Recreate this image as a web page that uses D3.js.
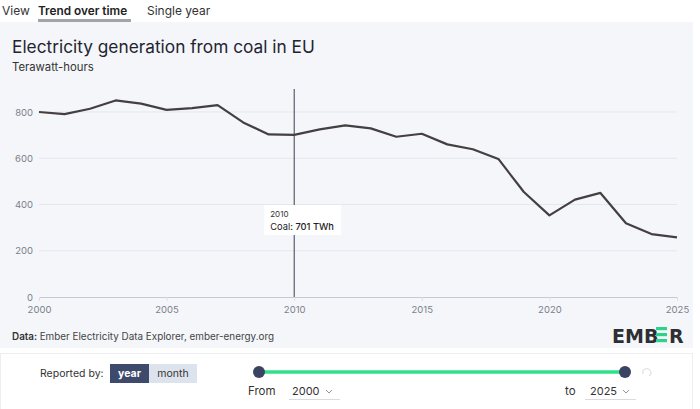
<!DOCTYPE html>
<html><head><meta charset="utf-8">
<script src="https://cdn.jsdelivr.net/npm/d3@7"></script>
<style>body{margin:0;background:#fff;font-family:Inter,"Noto Sans",sans-serif;}svg{display:block}</style>
</head><body><svg id="c" width="700" height="409"></svg>
<script>
const years = d3.range(2000, 2026);
const coalTWh = [800,791,814,850,836,809,817,830,755,703,701,725,742,729,693,706,660,639,597,454,353,421,450,319,272,258];
const yTicks = [0,200,400,600,800];
const xTicks = [2000,2005,2010,2015,2020,2025];
const hoverYear = 2010;

const svg = d3.select("#c");
const F = "Inter, 'Noto Sans', sans-serif";
// tabs
svg.append("text").attr("x",2).attr("y",15).attr("font-size",12).attr("fill","#333").attr("font-family",F).text("View");
svg.append("text").attr("x",38).attr("y",15).attr("font-size",11.8).attr("font-weight",600).attr("fill","#222").attr("font-family",F).text("Trend over time");
svg.append("text").attr("x",147).attr("y",15).attr("font-size",12).attr("fill","#333").attr("font-family",F).text("Single year");
svg.append("rect").attr("x",38).attr("y",19).attr("width",93).attr("height",3).attr("fill","#a0a4ab");
// panel
svg.append("rect").attr("x",0).attr("y",22).attr("width",693).attr("height",326).attr("fill","#f4f6fa");
svg.append("text").attr("x",12).attr("y",53).attr("font-size",17.3).attr("fill","#1f2430").attr("font-family",F).text("Electricity generation from coal in EU");
svg.append("text").attr("x",12).attr("y",71).attr("font-size",11.3).attr("fill","#333").attr("font-family",F).text("Terawatt-hours");

const x = d3.scaleLinear().domain([2000,2025]).range([39,677]);
const y = d3.scaleLinear().domain([0,800]).range([297,112]);

const g = svg.append("g");
g.selectAll("line.grid").data(yTicks.filter(d=>d>0)).join("line")
  .attr("x1",39).attr("x2",677).attr("y1",d=>y(d)).attr("y2",d=>y(d))
  .attr("stroke","#e4e7ee").attr("stroke-width",1);
const xAxis = g.append("g").attr("transform","translate(0,297)")
  .call(d3.axisBottom(x).tickValues(xTicks).tickFormat(d3.format("d")).tickSize(4).tickPadding(5));
xAxis.select(".domain").attr("stroke","#c5c9d2");
xAxis.selectAll(".tick line").attr("stroke","#dde0e6");
xAxis.selectAll("text").attr("font-size",9.5).attr("fill","#7a7f8a").attr("font-family",F);
const yAxis = g.append("g").attr("transform","translate(39,0)")
  .call(d3.axisLeft(y).tickValues(yTicks).tickSize(0).tickPadding(6));
yAxis.select(".domain").remove();
yAxis.selectAll("text").attr("font-size",9.5).attr("fill","#7a7f8a").attr("font-family",F);

// crosshair
g.append("line").attr("x1",x(hoverYear)).attr("x2",x(hoverYear)).attr("y1",89).attr("y2",297).attr("stroke","#3a4050").attr("stroke-width",1);

const line = d3.line().x((d,i)=>x(years[i])).y(d=>y(d));
g.append("path").datum(coalTWh).attr("d",line).attr("fill","none").attr("stroke","#453f42").attr("stroke-width",2.2).attr("stroke-linejoin","round");

// tooltip
const hv = coalTWh[years.indexOf(hoverYear)];
const tt = g.append("g").attr("transform",`translate(${x(hoverYear)-30},205)`);
tt.append("rect").attr("width",77).attr("height",30).attr("fill","#fff");
tt.append("text").attr("x",6).attr("y",12).attr("font-size",8).attr("fill","#333").attr("font-family",F).text(hoverYear);
const t2 = tt.append("text").attr("x",6).attr("y",25).attr("font-size",9.3).attr("fill","#222").attr("font-family",F);
t2.append("tspan").text("Coal:  ");
t2.append("tspan").attr("font-weight",500).text(hv+" TWh");

// footer
const ft = svg.append("text").attr("x",12).attr("y",340).attr("font-size",9.9).attr("fill","#444").attr("font-family",F);
ft.append("tspan").attr("font-weight",600).attr("fill","#333").text("Data: ");
ft.append("tspan").text("Ember Electricity Data Explorer, ember-energy.org");
// logo
const lg = svg.append("g").attr("font-family","'DejaVu Sans', sans-serif").attr("font-weight",700).attr("font-size",19).attr("fill","#2e2f33");
lg.append("text").attr("x",612).attr("y",343).text("EMB");
[0,6,12].forEach(o=>lg.append("rect").attr("x",656).attr("y",327+o).attr("width",11).attr("height",3.2).attr("fill","#2ed38a"));
lg.append("text").attr("x",669).attr("y",343).text("R");

// bottom controls
svg.append("rect").attr("x",0.5).attr("y",353.5).attr("width",692).attr("height",60).attr("fill","#fff").attr("stroke","#eceef2");
svg.append("text").attr("x",40).attr("y",377).attr("font-size",10.5).attr("fill","#333").attr("font-family",F).text("Reported by:");
svg.append("rect").attr("x",110).attr("y",364).attr("width",39).attr("height",19).attr("fill","#3d4a6b");
svg.append("rect").attr("x",149).attr("y",364).attr("width",48).attr("height",19).attr("fill","#dde3ec");
svg.append("text").attr("x",129.5).attr("y",377).attr("text-anchor","middle").attr("font-size",10.5).attr("font-weight",700).attr("fill","#fff").attr("font-family",F).text("year");
svg.append("text").attr("x",173).attr("y",377).attr("text-anchor","middle").attr("font-size",10.5).attr("fill","#333").attr("font-family",F).text("month");
svg.append("line").attr("x1",259).attr("x2",625).attr("y1",372).attr("y2",372).attr("stroke","#2fe08a").attr("stroke-width",3.5);
[259,625].forEach(cx=>svg.append("circle").attr("cx",cx).attr("cy",372).attr("r",6).attr("fill","#3a4462"));
svg.append("path").attr("d","M643,374 a4,4 0 1 1 6,2").attr("fill","none").attr("stroke","#e0e2e6").attr("stroke-width",1.2);
svg.append("text").attr("x",248).attr("y",395).attr("font-size",11.5).attr("fill","#333").attr("font-family",F).text("From");
svg.append("text").attr("x",292).attr("y",395).attr("font-size",11).attr("fill","#333").attr("font-family",F).text("2000");
svg.append("path").attr("d","M326,390 l3,3 l3,-3").attr("fill","none").attr("stroke","#888").attr("stroke-width",0.9);
svg.append("line").attr("x1",289).attr("x2",340).attr("y1",399.5).attr("y2",399.5).attr("stroke","#d8dbe0");
svg.append("text").attr("x",565).attr("y",395).attr("font-size",11.5).attr("fill","#333").attr("font-family",F).text("to");
svg.append("text").attr("x",590).attr("y",395).attr("font-size",11).attr("fill","#333").attr("font-family",F).text("2025");
svg.append("path").attr("d","M623,390 l3,3 l3,-3").attr("fill","none").attr("stroke","#888").attr("stroke-width",0.9);
svg.append("line").attr("x1",585).attr("x2",636).attr("y1",399.5).attr("y2",399.5).attr("stroke","#d8dbe0");
</script></body></html>
